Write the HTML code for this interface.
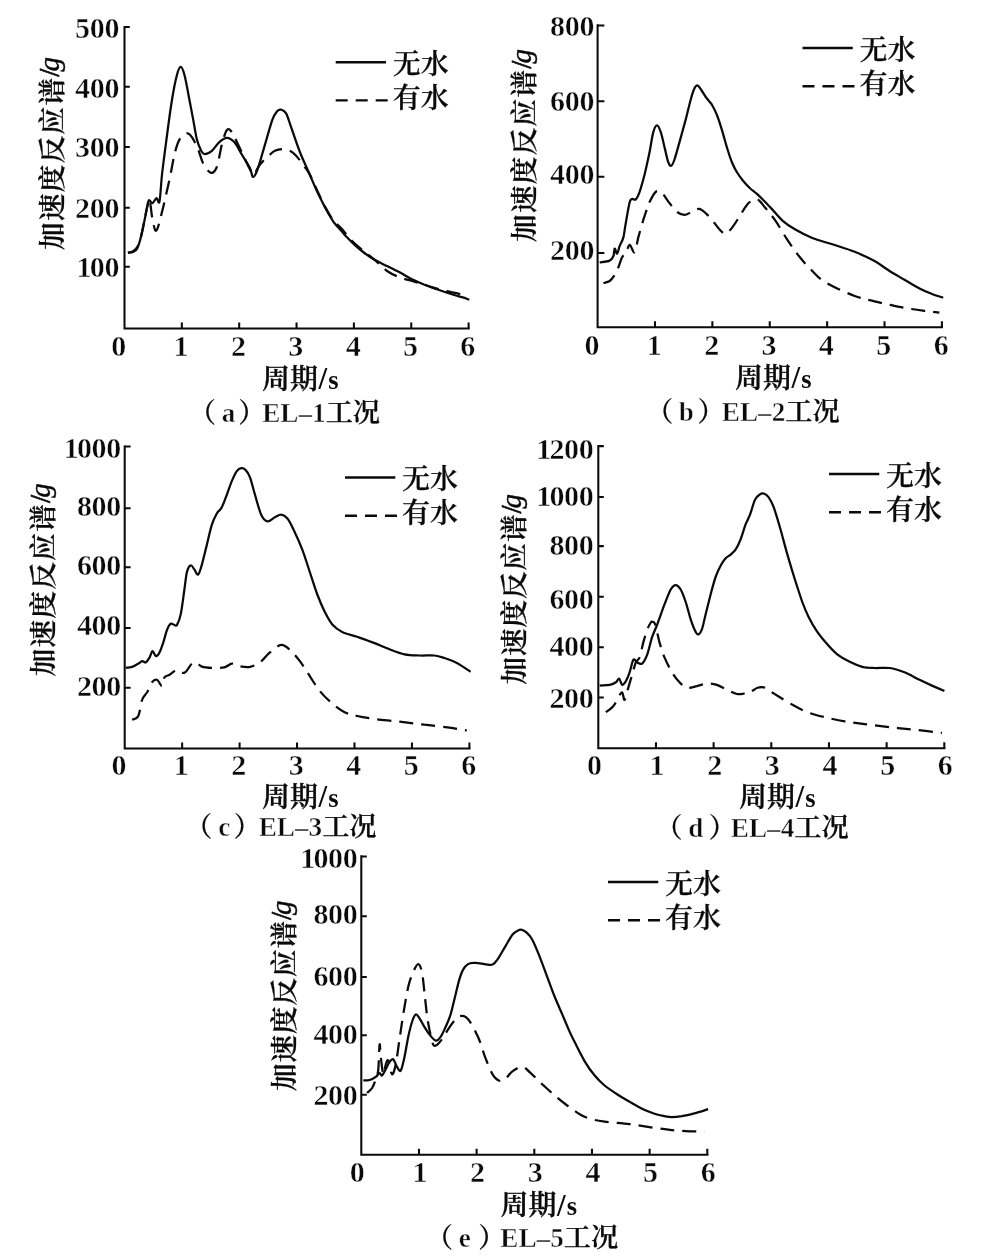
<!DOCTYPE html>
<html lang="zh-CN">
<head>
<meta charset="utf-8">
<title>加速度反应谱</title>
<style>
html,body{margin:0;padding:0;background:#fff;}
body{width:1003px;height:1257px;overflow:hidden;}
svg{display:block;}
text{fill:#0a0a0a;white-space:pre;stroke:#0a0a0a;stroke-linejoin:round;stroke-width:0;}
.num{font-family:"Liberation Serif","Noto Serif CJK SC",serif;font-size:30px;font-weight:bold;stroke:#fff;stroke-width:0.45px;letter-spacing:-0.3px;}
.ylab{font-family:"Liberation Serif","Noto Serif CJK SC",serif;font-weight:600;font-size:27.6px;letter-spacing:1.4px;stroke-width:0.3px;}
.ylab .sl{font-weight:normal;letter-spacing:0;stroke-width:0.7px;font-size:29px;}
.ylab .g{font-style:italic;font-weight:normal;letter-spacing:0;stroke-width:0.4px;font-size:29px;}
.xlab{font-family:"Liberation Serif","Noto Serif CJK SC",serif;font-weight:600;font-size:28px;stroke-width:0.3px;}
.xlab .xs{font-size:31px;font-weight:bold;stroke-width:0;}
.cap{font-family:"Liberation Serif","Noto Serif CJK SC",serif;font-size:27.2px;}
.cap .par{font-weight:600;stroke-width:0.2px;}
.cap .capl{font-weight:bold;stroke:#fff;stroke-width:0.5px;}
.cap .capc{font-weight:600;stroke-width:0.25px;}
.leg{font-family:"Liberation Serif","Noto Serif CJK SC",serif;font-weight:600;font-size:28px;stroke-width:0.25px;}
.ax{stroke:#0a0a0a;stroke-width:2.05;fill:none;}
.cv{stroke:#0a0a0a;stroke-width:2.25;fill:none;stroke-linejoin:round;}
.lg{stroke:#0a0a0a;stroke-width:2.35;fill:none;}
.ds{stroke-dasharray:14 8;}
</style>
</head>
<body>
<svg width="1003" height="1257" viewBox="0 0 1003 1257" role="img" aria-label="加速度反应谱">
<rect x="0" y="0" width="1003" height="1257" fill="#ffffff"/>

<g id="panel-a">
<path class="ax" d="M124.50 25.90 V328.40 H469.70"/>
<path class="ax" d="M124.50 27.00 h5.3M124.50 86.80 h5.3M124.50 147.00 h5.3M124.50 207.70 h5.3M124.50 266.70 h5.3M181.85 328.40 v-6M239.20 328.40 v-6M296.55 328.40 v-6M353.90 328.40 v-6M411.25 328.40 v-6M468.60 328.40 v-6"/>
<text class="num" x="119.2" y="38.0" text-anchor="end">500</text>
<text class="num" x="119.2" y="97.8" text-anchor="end">400</text>
<text class="num" x="119.2" y="156.5" text-anchor="end">300</text>
<text class="num" x="119.2" y="218.1" text-anchor="end">200</text>
<text class="num" x="119.2" y="276.8" dx="0 -1.5" text-anchor="end">100</text>
<text class="num" x="118.7" y="356.3" text-anchor="middle">0</text>
<text class="num" x="180.9" y="356.3" text-anchor="middle">1</text>
<text class="num" x="238.3" y="356.3" text-anchor="middle">2</text>
<text class="num" x="295.7" y="356.3" text-anchor="middle">3</text>
<text class="num" x="353.0" y="356.3" text-anchor="middle">4</text>
<text class="num" x="410.4" y="356.3" text-anchor="middle">5</text>
<text class="num" x="467.7" y="356.3" text-anchor="middle">6</text>
<text class="ylab" transform="translate(61.6 250.0) rotate(-90)" style="letter-spacing:1.3px">加速度反应谱<tspan class="sl" dy="-3">/</tspan><tspan class="g" dx="-3">g</tspan></text>
<text class="xlab" x="262.0" y="388.5">周期<tspan class="xs" dx="0.5" dy="0.5">/<tspan style="font-size:26.5px" dx="1" dy="-0.5">s</tspan></tspan></text>
<text class="cap" x="188.7" y="421.5"><tspan class="par">（</tspan><tspan class="capl" x="228.5" text-anchor="middle">a</tspan><tspan class="par" x="238.2" text-anchor="start">）</tspan><tspan class="capl" x="262.2">EL–1</tspan><tspan class="capc">工况</tspan></text>
<path class="lg" d="M335.7 62.2 h50.3"/>
<path class="lg" stroke-dasharray="12 8" d="M335.7 100.4 h52"/>
<text class="leg" x="392.7" y="73.7">无水</text>
<text class="leg" x="392.7" y="107.9">有水</text>
<path class="cv" d="M127.9 252.8C128.8 252.7 131.8 252.6 133.3 251.8C134.9 251.1 135.8 251.0 137.1 248.6C138.3 246.2 139.6 242.2 140.8 237.4C142.1 232.6 143.4 225.3 144.6 219.9C145.7 214.5 146.8 208.3 147.6 205.0C148.3 201.7 148.2 200.5 149.1 200.1C149.9 199.8 151.3 203.5 152.5 203.1C153.8 202.8 155.4 198.4 156.5 198.2C157.7 197.9 158.6 205.3 159.5 201.4C160.4 197.4 161.0 183.9 162.0 174.5C163.1 165.0 164.1 157.0 165.8 144.6C167.4 132.1 170.1 111.3 172.0 99.7C173.9 88.1 175.5 80.3 177.0 74.8C178.4 69.3 179.5 66.8 180.7 66.8C182.0 66.8 183.0 69.3 184.4 74.8C185.9 80.3 188.0 92.2 189.4 99.7C190.9 107.2 191.9 113.0 193.2 119.6C194.4 126.3 195.7 134.6 196.9 139.6C198.2 144.6 199.4 147.1 200.6 149.6C201.9 152.0 202.5 153.8 204.4 154.0C206.3 154.2 209.4 152.8 211.9 150.8C214.4 148.8 216.8 144.2 219.3 142.1C221.8 139.9 224.3 137.8 226.8 137.8C229.3 137.8 231.8 139.3 234.3 142.1C236.8 144.9 239.2 150.2 241.8 154.5C244.4 158.9 248.1 164.5 250.0 168.2C251.9 172.0 251.7 176.8 253.0 177.0C254.2 177.2 255.5 174.9 257.5 169.5C259.5 164.1 262.5 152.9 265.0 144.6C267.4 136.3 270.4 125.2 272.4 119.6C274.5 114.0 276.0 112.6 277.4 110.9C278.9 109.3 279.7 109.3 281.2 109.7C282.6 110.1 284.5 110.5 286.1 113.4C287.8 116.3 288.8 120.7 291.1 127.1C293.4 133.6 296.9 144.6 299.9 152.0C302.8 159.5 305.7 165.3 308.6 172.0C311.5 178.6 314.6 186.1 317.3 191.9C320.0 197.7 322.1 201.9 324.8 206.9C327.5 211.9 330.6 217.7 333.5 221.8C336.4 226.0 340.3 229.5 342.2 231.8C344.2 234.1 343.2 233.3 345.3 235.5C347.4 237.7 351.7 242.2 354.9 245.1C358.1 248.0 361.1 250.5 364.4 253.0C367.7 255.5 370.8 257.6 374.6 259.8C378.4 262.0 382.9 264.0 387.1 266.1C391.2 268.1 395.4 270.1 399.6 272.3C403.7 274.5 407.9 277.2 412.0 279.3C416.2 281.3 420.3 283.1 424.5 284.7C428.6 286.4 432.8 287.8 436.9 289.2C441.1 290.7 445.2 292.1 449.4 293.5C453.6 294.8 458.5 296.2 461.9 297.2C465.2 298.2 468.1 299.3 469.3 299.7"/>
<path class="cv ds" d="M127.9 252.8C128.8 252.6 131.8 252.0 133.3 251.1C134.9 250.2 135.8 249.6 137.1 247.4C138.3 245.1 139.6 242.0 140.8 237.4C142.1 232.8 143.4 225.3 144.6 219.9C145.7 214.5 146.7 208.4 147.6 205.0C148.4 201.6 148.7 197.0 149.6 199.4C150.4 201.8 151.4 214.1 152.5 219.3C153.7 224.5 154.7 231.8 156.3 230.6C157.9 229.3 159.8 220.4 162.0 211.9C164.2 203.3 167.4 189.0 169.5 179.5C171.6 169.9 172.8 161.2 174.5 154.5C176.1 147.9 177.4 143.1 179.5 139.6C181.5 136.1 184.9 133.8 186.9 133.3C189.0 132.9 190.1 134.4 191.9 137.1C193.8 139.8 196.3 145.2 198.2 149.6C200.0 153.9 201.1 159.4 203.1 163.3C205.2 167.1 208.3 172.1 210.6 172.7C212.9 173.4 215.0 171.7 216.8 167.0C218.7 162.3 220.2 150.7 221.8 144.6C223.5 138.4 225.2 132.2 226.8 130.1C228.5 128.0 229.7 129.3 231.8 132.1C233.9 134.9 236.2 140.8 239.3 147.1C242.3 153.3 247.6 164.9 250.0 169.5C252.4 174.1 252.1 175.3 253.7 174.5C255.4 173.6 257.5 167.6 260.0 164.5C262.5 161.4 266.2 158.1 268.7 155.8C271.2 153.5 272.6 151.9 274.9 150.8C277.2 149.7 279.9 149.1 282.4 149.1C284.9 149.1 287.6 149.7 289.9 150.8C292.2 151.9 293.6 153.1 296.1 155.8C298.6 158.5 302.6 163.9 304.8 167.0C307.1 170.1 307.7 170.5 309.8 174.5C311.9 178.4 314.8 185.4 317.3 190.7C319.8 196.0 322.1 201.4 324.8 206.4C327.5 211.4 330.6 216.8 333.5 220.6C336.4 224.4 339.5 226.3 342.2 229.3C344.9 232.3 346.4 235.2 349.7 238.6C353.0 242.1 358.0 246.3 362.2 249.9C366.3 253.4 370.5 256.3 374.6 259.8C378.8 263.4 382.9 268.1 387.1 271.0C391.2 273.9 395.4 275.6 399.6 277.3C403.7 278.9 407.9 279.8 412.0 281.0C416.2 282.3 420.3 283.5 424.5 284.7C428.6 286.0 432.8 287.3 436.9 288.5C441.1 289.6 444.4 290.6 449.4 291.7C454.4 292.9 463.9 294.8 466.8 295.5"/>
</g>
<g id="panel-b">
<path class="ax" d="M597.60 24.30 V327.20 H943.00"/>
<path class="ax" d="M597.60 25.40 h6.8M597.60 101.20 h6.8M597.60 176.80 h6.8M597.60 252.90 h6.8M654.98 327.20 v-6M712.37 327.20 v-6M769.75 327.20 v-6M827.13 327.20 v-6M884.52 327.20 v-6M941.90 327.20 v-6"/>
<text class="num" x="594.2" y="35.5" text-anchor="end">800</text>
<text class="num" x="594.2" y="111.3" text-anchor="end">600</text>
<text class="num" x="594.2" y="184.4" text-anchor="end">400</text>
<text class="num" x="594.2" y="259.5" text-anchor="end">200</text>
<text class="num" x="591.8" y="354.6" text-anchor="middle">0</text>
<text class="num" x="654.1" y="354.6" text-anchor="middle">1</text>
<text class="num" x="711.5" y="354.6" text-anchor="middle">2</text>
<text class="num" x="768.9" y="354.6" text-anchor="middle">3</text>
<text class="num" x="826.2" y="354.6" text-anchor="middle">4</text>
<text class="num" x="883.6" y="354.6" text-anchor="middle">5</text>
<text class="num" x="941.0" y="354.6" text-anchor="middle">6</text>
<text class="ylab" transform="translate(533.5 242.0) rotate(-90)" style="letter-spacing:1.3px">加速度反应谱<tspan class="sl" dy="-3">/</tspan><tspan class="g" dx="-3">g</tspan></text>
<text class="xlab" x="735.0" y="387.5">周期<tspan class="xs" dx="0.5" dy="0.5">/<tspan style="font-size:26.5px" dx="1" dy="-0.5">s</tspan></tspan></text>
<text class="cap" x="646.0" y="420.5"><tspan class="par">（</tspan><tspan class="capl" x="686.3" text-anchor="middle">b</tspan><tspan class="par" x="697.5" text-anchor="start">）</tspan><tspan class="capl" x="721.8">EL–2</tspan><tspan class="capc">工况</tspan></text>
<path class="lg" d="M802.5 48.0 h50.3"/>
<path class="lg" stroke-dasharray="12 8" d="M802.5 86.2 h52"/>
<text class="leg" x="859.5" y="59.5">无水</text>
<text class="leg" x="859.5" y="93.7">有水</text>
<path class="cv" d="M599.7 262.3C601.4 262.0 607.4 261.6 609.7 260.6C612.0 259.5 612.6 258.1 613.4 256.1C614.2 254.1 614.0 249.0 614.7 248.6C615.3 248.2 616.3 254.0 617.1 253.6C618.0 253.2 618.6 248.8 619.6 246.1C620.7 243.4 622.3 241.3 623.4 237.4C624.4 233.4 624.8 228.2 625.9 222.4C626.9 216.6 628.6 206.4 629.6 202.5C630.6 198.6 631.1 199.4 632.1 198.9C633.1 198.4 634.6 200.6 635.8 199.4C637.1 198.2 638.1 196.1 639.6 191.9C641.0 187.8 642.9 181.1 644.6 174.5C646.2 167.8 648.1 159.1 649.6 152.0C651.0 145.0 652.0 136.5 653.3 132.1C654.5 127.7 655.8 125.4 657.0 125.4C658.3 125.4 659.5 128.5 660.8 132.1C662.0 135.7 663.3 142.1 664.5 147.1C665.8 152.0 667.1 158.9 668.2 162.0C669.4 165.1 670.2 166.2 671.2 165.8C672.3 165.3 673.1 163.5 674.5 159.5C675.8 155.6 677.6 148.7 679.5 142.1C681.3 135.4 683.8 126.7 685.7 119.6C687.6 112.6 689.2 104.9 690.7 99.7C692.1 94.5 693.3 90.9 694.4 88.5C695.6 86.1 696.4 85.1 697.7 85.5C698.9 85.9 700.4 88.8 701.9 91.0C703.4 93.1 705.2 96.2 706.9 98.5C708.5 100.7 710.2 102.0 711.9 104.7C713.5 107.4 715.2 110.5 716.8 114.7C718.5 118.8 720.2 124.2 721.8 129.6C723.5 135.0 725.2 141.7 726.8 147.1C728.5 152.5 730.1 157.9 731.8 162.0C733.5 166.2 734.9 168.9 736.8 172.0C738.7 175.1 740.8 178.0 743.0 180.7C745.2 183.4 747.6 185.9 750.0 188.2C752.4 190.5 754.2 191.3 757.5 194.4C760.8 197.5 765.8 202.5 769.9 206.9C774.1 211.2 778.2 216.8 782.4 220.6C786.6 224.3 789.9 226.4 794.9 229.3C799.9 232.2 806.1 235.5 812.3 238.0C818.5 240.5 825.2 242.0 832.3 244.3C839.3 246.6 847.6 249.0 854.7 251.8C861.7 254.6 868.8 257.9 874.6 261.1C880.4 264.3 884.6 267.9 889.6 271.0C894.6 274.2 899.6 276.9 904.5 279.8C909.5 282.7 914.9 286.1 919.5 288.5C924.1 290.9 928.0 292.4 932.0 294.0C935.9 295.5 941.3 297.1 943.2 297.7"/>
<path class="cv ds" d="M603.4 283.0C604.5 282.7 607.8 282.4 609.7 281.0C611.5 279.6 613.2 277.1 614.7 274.8C616.1 272.5 617.1 270.2 618.4 267.3C619.6 264.4 620.9 259.6 622.1 257.3C623.4 255.0 624.6 255.7 625.9 253.6C627.1 251.5 628.2 245.1 629.6 244.9C631.1 244.7 633.1 253.6 634.6 252.3C636.1 251.1 636.9 242.8 638.3 237.4C639.8 232.0 641.7 225.3 643.3 219.9C645.0 214.5 647.3 208.0 648.3 205.0C649.3 202.0 648.5 203.9 649.6 201.9C650.6 199.9 653.1 195.0 654.5 193.2C656.0 191.3 656.8 190.5 658.3 190.7C659.7 190.9 661.4 192.3 663.3 194.4C665.1 196.5 667.2 200.2 669.5 203.1C671.8 206.0 674.5 209.9 677.0 211.9C679.5 213.8 682.0 214.9 684.4 214.9C686.9 214.9 689.4 212.9 691.9 211.9C694.4 210.9 696.9 208.5 699.4 208.9C701.9 209.3 704.4 212.0 706.9 214.4C709.4 216.7 712.1 220.4 714.4 223.1C716.6 225.8 718.7 228.8 720.6 230.6C722.5 232.3 723.7 234.2 725.6 233.8C727.4 233.4 729.5 230.9 731.8 228.1C734.1 225.2 737.0 220.4 739.3 216.8C741.6 213.3 743.7 209.4 745.5 206.9C747.3 204.4 748.0 203.1 750.0 201.9C752.0 200.6 755.0 198.5 757.5 199.4C760.0 200.3 762.0 204.1 765.0 207.5C767.9 210.9 771.2 214.5 774.9 219.9C778.7 225.3 783.2 233.6 787.4 239.9C791.5 246.1 795.7 252.1 799.9 257.3C804.0 262.5 808.6 267.2 812.3 271.0C816.1 274.9 818.1 277.4 822.3 280.3C826.4 283.2 831.8 285.9 837.2 288.5C842.6 291.1 849.3 294.0 854.7 296.0C860.1 297.9 864.2 298.8 869.6 300.2C875.0 301.6 881.3 302.9 887.1 304.2C892.9 305.5 898.3 306.8 904.5 307.9C910.8 309.0 918.7 310.1 924.5 310.9C930.3 311.7 936.9 312.4 939.4 312.7"/>
</g>
<g id="panel-c">
<path class="ax" d="M124.70 445.40 V748.40 H470.50"/>
<path class="ax" d="M124.70 446.50 h5.9M124.70 508.30 h5.9M124.70 567.30 h5.9M124.70 627.90 h5.9M124.70 687.70 h5.9M182.15 748.40 v-6M239.60 748.40 v-6M297.05 748.40 v-6M354.50 748.40 v-6M411.95 748.40 v-6M469.40 748.40 v-6"/>
<text class="num" x="121.0" y="457.7" dx="0 -1.5" text-anchor="end">1000</text>
<text class="num" x="121.0" y="515.9" text-anchor="end">800</text>
<text class="num" x="121.0" y="574.9" text-anchor="end">600</text>
<text class="num" x="121.0" y="634.7" text-anchor="end">400</text>
<text class="num" x="121.0" y="695.7" text-anchor="end">200</text>
<text class="num" x="118.9" y="775.2" text-anchor="middle">0</text>
<text class="num" x="181.2" y="775.2" text-anchor="middle">1</text>
<text class="num" x="238.7" y="775.2" text-anchor="middle">2</text>
<text class="num" x="296.2" y="775.2" text-anchor="middle">3</text>
<text class="num" x="353.6" y="775.2" text-anchor="middle">4</text>
<text class="num" x="411.1" y="775.2" text-anchor="middle">5</text>
<text class="num" x="468.5" y="775.2" text-anchor="middle">6</text>
<text class="ylab" transform="translate(52.9 676.3) rotate(-90)" style="letter-spacing:1.3px">加速度反应谱<tspan class="sl" dy="-3">/</tspan><tspan class="g" dx="-3">g</tspan></text>
<text class="xlab" x="262.0" y="806.5">周期<tspan class="xs" dx="0.5" dy="0.5">/<tspan style="font-size:26.5px" dx="1" dy="-0.5">s</tspan></tspan></text>
<text class="cap" x="184.9" y="835.5"><tspan class="par">（</tspan><tspan class="capl" x="224.3" text-anchor="middle">c</tspan><tspan class="par" x="233.8" text-anchor="start">）</tspan><tspan class="capl" x="258.7">EL–3</tspan><tspan class="capc">工况</tspan></text>
<path class="lg" d="M345.0 477.5 h50.3"/>
<path class="lg" stroke-dasharray="12 8" d="M345.0 515.7 h52"/>
<text class="leg" x="402.0" y="489.0">无水</text>
<text class="leg" x="402.0" y="523.2">有水</text>
<path class="cv" d="M125.9 667.9C126.9 667.7 130.0 667.6 132.1 666.9C134.2 666.2 136.7 664.6 138.3 663.6C140.0 662.7 140.8 661.3 142.1 661.1C143.3 660.9 144.6 663.0 145.8 662.4C147.1 661.7 148.4 659.3 149.6 657.4C150.7 655.5 151.5 651.4 152.5 651.2C153.6 650.9 154.6 655.9 155.8 656.1C156.9 656.3 158.3 654.7 159.5 652.4C160.8 650.1 162.0 646.2 163.3 642.4C164.5 638.7 165.8 633.1 167.0 630.0C168.2 626.9 169.5 624.6 170.7 623.7C172.0 622.9 173.4 624.8 174.5 625.0C175.5 625.2 175.9 626.6 177.0 624.9C178.0 623.1 179.5 620.3 180.7 614.4C182.0 608.5 183.4 596.6 184.4 589.5C185.5 582.4 185.9 576.1 186.9 572.0C188.0 568.0 189.4 565.7 190.7 565.3C191.9 564.9 193.2 568.0 194.4 569.6C195.7 571.1 196.9 575.4 198.2 574.5C199.4 573.7 200.4 569.6 201.9 564.6C203.3 559.6 205.2 551.3 206.9 544.6C208.5 538.0 210.2 529.9 211.9 524.7C213.5 519.5 215.2 516.4 216.8 513.5C218.5 510.6 220.2 510.4 221.8 507.2C223.5 504.1 225.2 499.1 226.8 494.8C228.5 490.4 230.1 485.0 231.8 481.1C233.5 477.1 235.2 473.3 236.8 471.1C238.4 468.9 239.8 468.3 241.3 468.1C242.7 467.9 244.1 468.3 245.5 469.9C247.0 471.4 248.4 473.2 250.0 477.3C251.6 481.5 253.1 488.5 255.0 494.8C256.9 501.0 259.1 510.3 261.2 514.7C263.3 519.2 265.2 521.0 267.4 521.4C269.7 521.9 272.6 518.3 274.9 517.2C277.2 516.1 279.1 514.5 281.2 514.7C283.2 514.9 285.3 516.0 287.4 518.5C289.5 520.9 291.1 524.5 293.6 529.7C296.1 534.9 299.6 542.5 302.3 549.6C305.0 556.7 307.3 564.6 309.8 572.0C312.3 579.5 314.8 587.8 317.3 594.5C319.8 601.1 322.3 606.9 324.8 611.9C327.3 616.9 329.3 621.1 332.3 624.4C335.2 627.7 338.1 629.8 342.2 631.9C346.4 633.9 351.8 635.0 357.2 636.8C362.6 638.7 369.2 641.0 374.6 643.1C380.0 645.2 384.6 647.4 389.6 649.3C394.6 651.2 399.6 653.3 404.5 654.3C409.5 655.3 414.5 655.3 419.5 655.5C424.5 655.8 430.3 655.1 434.4 655.5C438.6 656.0 440.7 656.8 444.4 658.0C448.2 659.3 452.5 660.7 456.9 663.0C461.2 665.3 468.3 670.4 470.6 671.8"/>
<path class="cv ds" d="M132.1 719.7C133.1 719.1 136.7 719.3 138.3 716.0C140.0 712.6 140.6 703.7 142.1 699.8C143.5 695.8 145.4 695.2 147.1 692.3C148.7 689.4 150.4 684.4 152.0 682.3C153.7 680.2 155.4 679.2 157.0 679.8C158.7 680.4 160.8 686.5 162.0 686.1C163.3 685.6 163.3 679.2 164.5 677.3C165.8 675.5 167.4 676.1 169.5 674.8C171.6 673.6 174.5 670.2 177.0 669.9C179.5 669.5 182.0 673.9 184.4 672.8C186.9 671.8 189.8 665.3 191.9 663.6C194.0 662.0 195.2 662.4 196.9 662.9C198.6 663.4 199.4 665.8 201.9 666.6C204.4 667.4 208.1 667.7 211.9 667.9C215.6 668.0 221.0 668.1 224.3 667.4C227.7 666.7 229.3 663.8 231.8 663.6C234.3 663.4 236.2 665.6 239.3 666.1C242.3 666.7 246.6 667.5 250.0 666.9C253.4 666.2 256.6 664.8 260.0 662.4C263.3 660.0 266.4 655.3 269.9 652.4C273.5 649.5 277.8 645.3 281.2 644.9C284.5 644.5 286.8 647.2 289.9 649.9C293.0 652.6 296.5 656.8 299.9 661.1C303.2 665.5 306.5 671.1 309.8 676.1C313.1 681.1 316.1 686.5 319.8 691.0C323.5 695.6 328.1 700.0 332.3 703.5C336.4 707.0 340.6 710.1 344.7 712.2C348.9 714.3 352.2 714.8 357.2 716.0C362.2 717.1 367.6 718.0 374.6 719.0C381.7 719.9 391.2 720.7 399.6 721.7C407.9 722.7 416.2 723.7 424.5 724.7C432.8 725.7 442.3 726.7 449.4 727.7C456.5 728.6 463.9 730.0 466.8 730.4"/>
</g>
<g id="panel-d">
<path class="ax" d="M598.30 445.00 V748.20 H945.40"/>
<path class="ax" d="M598.30 446.10 h5.5M598.30 497.00 h5.5M598.30 546.10 h5.5M598.30 596.80 h5.5M598.30 647.20 h5.5M598.30 697.40 h5.5M655.97 748.20 v-6M713.63 748.20 v-6M771.30 748.20 v-6M828.97 748.20 v-6M886.63 748.20 v-6M944.30 748.20 v-6"/>
<text class="num" x="593.5" y="459.0" dx="0 -1.5" text-anchor="end">1200</text>
<text class="num" x="593.5" y="505.9" dx="0 -1.5" text-anchor="end">1000</text>
<text class="num" x="593.5" y="554.6" text-anchor="end">800</text>
<text class="num" x="593.5" y="608.9" text-anchor="end">600</text>
<text class="num" x="593.5" y="656.3" text-anchor="end">400</text>
<text class="num" x="593.5" y="708.4" text-anchor="end">200</text>
<text class="num" x="594.3" y="774.7" text-anchor="middle">0</text>
<text class="num" x="656.9" y="774.7" text-anchor="middle">1</text>
<text class="num" x="714.5" y="774.7" text-anchor="middle">2</text>
<text class="num" x="772.2" y="774.7" text-anchor="middle">3</text>
<text class="num" x="829.9" y="774.7" text-anchor="middle">4</text>
<text class="num" x="887.5" y="774.7" text-anchor="middle">5</text>
<text class="num" x="945.2" y="774.7" text-anchor="middle">6</text>
<text class="ylab" transform="translate(523.6 684.5) rotate(-90)" style="letter-spacing:0.9px">加速度反应谱<tspan class="sl" dy="-3">/</tspan><tspan class="g" dx="-3">g</tspan></text>
<text class="xlab" x="739.0" y="806.5">周期<tspan class="xs" dx="0.5" dy="0.5">/<tspan style="font-size:26.5px" dx="1" dy="-0.5">s</tspan></tspan></text>
<text class="cap" x="655.2" y="836.5"><tspan class="par">（</tspan><tspan class="capl" x="695.9" text-anchor="middle">d</tspan><tspan class="par" x="708.7" text-anchor="start">）</tspan><tspan class="capl" x="730.8">EL–4</tspan><tspan class="capc">工况</tspan></text>
<path class="lg" d="M829.0 474.0 h50.3"/>
<path class="lg" stroke-dasharray="12 8" d="M829.0 512.2 h52"/>
<text class="leg" x="886.0" y="485.5">无水</text>
<text class="leg" x="886.0" y="519.7">有水</text>
<path class="cv" d="M599.7 685.6C601.4 685.4 607.0 685.3 609.7 684.8C612.4 684.3 614.3 683.4 615.9 682.3C617.5 681.3 618.1 678.2 619.1 678.6C620.2 679.0 621.0 684.4 622.1 684.8C623.3 685.2 624.6 683.1 625.9 681.1C627.1 679.0 628.4 675.9 629.6 672.3C630.9 668.8 632.1 661.5 633.3 659.9C634.6 658.2 635.6 661.7 637.1 662.4C638.5 663.0 640.4 664.9 642.1 663.6C643.7 662.4 645.4 659.3 647.1 654.9C648.7 650.5 650.4 642.4 652.0 637.4C653.7 632.5 655.0 630.5 657.0 625.0C659.1 619.5 662.2 610.4 664.5 604.4C666.8 598.5 668.9 592.7 670.7 589.5C672.6 586.3 674.1 585.0 675.7 585.0C677.4 585.0 679.0 586.7 680.7 589.5C682.4 592.3 684.0 597.0 685.7 602.0C687.4 606.9 689.0 614.4 690.7 619.4C692.3 624.4 694.3 629.4 695.7 631.9C697.0 634.4 697.6 634.8 698.7 634.4C699.7 633.9 700.7 632.7 701.9 629.4C703.1 626.0 704.2 620.2 705.6 614.4C707.1 608.6 709.0 600.7 710.6 594.5C712.3 588.2 713.9 581.8 715.6 577.0C717.3 572.3 718.9 568.9 720.6 565.8C722.2 562.7 723.9 560.2 725.6 558.3C727.2 556.5 728.9 556.1 730.6 554.6C732.2 553.1 733.9 552.1 735.5 549.6C737.2 547.1 738.9 543.8 740.5 539.6C742.2 535.5 743.9 528.8 745.5 524.7C747.1 520.5 748.4 518.9 750.0 514.7C751.6 510.6 753.3 503.2 755.0 499.8C756.6 496.4 758.5 495.3 760.0 494.3C761.4 493.2 762.3 493.0 763.7 493.5C765.2 494.0 767.0 495.0 768.7 497.3C770.4 499.6 771.8 502.3 773.7 507.2C775.5 512.2 777.6 519.3 779.9 527.2C782.2 535.1 784.9 545.9 787.4 554.6C789.9 563.3 792.4 571.6 794.9 579.5C797.4 587.4 800.1 595.7 802.3 602.0C804.6 608.2 806.1 611.9 808.6 616.9C811.1 621.9 814.2 627.3 817.3 631.9C820.4 636.4 823.9 640.6 827.3 644.3C830.6 648.1 833.5 651.4 837.2 654.3C841.0 657.2 845.5 659.7 849.7 661.8C853.9 663.9 858.0 665.7 862.2 666.8C866.3 667.8 870.1 667.8 874.6 668.0C879.2 668.2 884.6 667.3 889.6 668.0C894.6 668.7 899.6 670.4 904.5 672.3C909.5 674.3 914.9 677.6 919.5 679.8C924.1 682.0 927.8 683.7 932.0 685.6C936.1 687.4 942.3 690.1 944.4 691.0"/>
<path class="cv ds" d="M605.9 712.2C607.2 711.2 611.3 708.5 613.4 706.0C615.5 703.5 616.9 699.6 618.4 697.3C619.8 695.0 621.1 691.9 622.1 692.3C623.2 692.7 623.6 700.6 624.6 699.8C625.7 698.9 627.1 691.5 628.4 687.3C629.6 683.1 630.9 679.0 632.1 674.8C633.3 670.7 634.6 665.3 635.8 662.4C637.1 659.5 638.3 660.7 639.6 657.4C640.8 654.1 642.1 647.0 643.3 642.4C644.6 637.9 645.8 633.3 647.1 630.0C648.3 626.6 649.9 623.9 650.8 622.5C651.7 621.1 651.6 621.5 652.3 621.8C653.0 622.1 654.0 621.1 655.2 624.5C656.4 627.9 658.0 637.0 659.5 642.4C661.1 647.9 662.4 652.4 664.5 657.4C666.6 662.4 669.5 668.2 672.0 672.3C674.5 676.5 677.0 679.7 679.5 682.3C682.0 684.9 684.0 687.2 686.9 687.8C689.8 688.4 693.6 686.8 696.9 686.1C700.2 685.3 703.6 683.8 706.9 683.6C710.2 683.4 713.5 683.8 716.8 684.8C720.2 685.8 723.5 688.3 726.8 689.8C730.1 691.3 733.9 693.4 736.8 694.0C739.7 694.7 742.1 693.8 744.3 693.5C746.5 693.2 747.8 693.2 750.0 692.3C752.2 691.3 755.2 688.6 757.5 687.8C759.8 687.0 761.6 686.8 763.7 687.3C765.8 687.8 767.2 689.4 769.9 691.0C772.6 692.7 776.2 695.0 779.9 697.3C783.6 699.6 787.8 702.3 792.4 704.7C796.9 707.2 801.9 710.1 807.3 712.2C812.7 714.3 818.5 715.7 824.8 717.2C831.0 718.7 838.1 720.3 844.7 721.4C851.4 722.6 857.2 723.2 864.7 724.2C872.1 725.1 881.3 726.3 889.6 727.2C897.9 728.1 905.8 728.7 914.5 729.7C923.2 730.6 937.4 732.4 941.9 732.9"/>
</g>
<g id="panel-e">
<path class="ax" d="M361.30 855.30 V1154.70 H708.40"/>
<path class="ax" d="M361.30 856.40 h5.5M361.30 916.30 h5.5M361.30 976.90 h5.5M361.30 1035.30 h5.5M361.30 1094.70 h5.5M418.97 1154.70 v-6M476.63 1154.70 v-6M534.30 1154.70 v-6M591.97 1154.70 v-6M649.63 1154.70 v-6M707.30 1154.70 v-6"/>
<text class="num" x="357.5" y="867.5" dx="0 -1.5" text-anchor="end">1000</text>
<text class="num" x="357.5" y="923.8" text-anchor="end">800</text>
<text class="num" x="357.5" y="985.5" text-anchor="end">600</text>
<text class="num" x="357.5" y="1044.3" text-anchor="end">400</text>
<text class="num" x="357.5" y="1105.0" text-anchor="end">200</text>
<text class="num" x="357.2" y="1182.0" text-anchor="middle">0</text>
<text class="num" x="419.8" y="1182.0" text-anchor="middle">1</text>
<text class="num" x="477.4" y="1182.0" text-anchor="middle">2</text>
<text class="num" x="535.1" y="1182.0" text-anchor="middle">3</text>
<text class="num" x="592.8" y="1182.0" text-anchor="middle">4</text>
<text class="num" x="650.4" y="1182.0" text-anchor="middle">5</text>
<text class="num" x="708.1" y="1182.0" text-anchor="middle">6</text>
<text class="ylab" transform="translate(294.2 1091.0) rotate(-90)" style="letter-spacing:0.9px">加速度反应谱<tspan class="sl" dy="-3">/</tspan><tspan class="g" dx="-3">g</tspan></text>
<text class="xlab" x="500.5" y="1215.0">周期<tspan class="xs" dx="0.5" dy="0.5">/<tspan style="font-size:26.5px" dx="1" dy="-0.5">s</tspan></tspan></text>
<text class="cap" x="425.8" y="1246.5"><tspan class="par">（</tspan><tspan class="capl" x="464.7" text-anchor="middle">e</tspan><tspan class="par" x="478.3" text-anchor="start">）</tspan><tspan class="capl" x="500.3">EL–5</tspan><tspan class="capc">工况</tspan></text>
<path class="lg" d="M608.0 882.0 h50.3"/>
<path class="lg" stroke-dasharray="12 8" d="M608.0 920.2 h52"/>
<text class="leg" x="665.0" y="893.5">无水</text>
<text class="leg" x="665.0" y="927.7">有水</text>
<path class="cv" d="M363.3 1080.5C364.4 1080.4 367.5 1080.7 369.6 1080.0C371.7 1079.4 374.2 1078.0 375.8 1076.8C377.5 1075.6 378.5 1073.3 379.6 1073.1C380.6 1072.8 381.0 1076.2 382.0 1075.5C383.1 1074.9 384.5 1071.6 385.8 1069.3C387.0 1067.0 388.3 1063.5 389.5 1061.8C390.8 1060.2 392.0 1058.5 393.3 1059.3C394.5 1060.2 395.8 1065.0 397.0 1066.8C398.2 1068.7 399.5 1072.2 400.7 1070.6C402.0 1068.9 403.2 1062.5 404.5 1056.9C405.7 1051.2 407.0 1042.7 408.2 1036.9C409.5 1031.1 410.7 1025.7 412.0 1022.0C413.2 1018.2 414.4 1015.1 415.7 1014.5C416.9 1013.9 418.0 1016.1 419.4 1018.2C420.9 1020.3 422.8 1024.2 424.4 1026.9C426.1 1029.6 427.5 1032.1 429.4 1034.4C431.3 1036.7 433.8 1040.2 435.6 1040.6C437.5 1041.1 439.0 1039.2 440.6 1036.9C442.3 1034.6 443.9 1030.7 445.6 1026.9C447.3 1023.2 448.9 1019.9 450.6 1014.5C452.2 1009.1 454.1 1000.3 455.6 994.5C457.0 988.7 458.1 983.7 459.3 979.6C460.6 975.4 461.6 972.2 463.1 969.6C464.5 967.0 466.2 965.2 468.0 964.1C469.9 963.0 472.3 963.0 474.3 962.9C476.3 962.7 477.8 963.1 480.0 963.3C482.2 963.6 485.4 964.4 487.5 964.6C489.6 964.8 490.8 965.4 492.5 964.6C494.1 963.8 495.4 962.5 497.4 959.6C499.5 956.7 502.4 951.3 504.9 947.1C507.4 943.0 510.3 937.4 512.4 934.7C514.5 932.0 515.9 931.8 517.4 930.9C518.8 930.1 519.7 929.5 521.1 929.7C522.6 929.9 524.2 930.5 526.1 932.2C528.0 933.9 530.1 935.5 532.3 939.7C534.6 943.8 537.3 950.9 539.8 957.1C542.3 963.3 544.8 970.4 547.3 977.1C549.8 983.7 552.3 990.8 554.8 997.0C557.3 1003.2 559.8 1008.6 562.3 1014.4C564.7 1020.3 567.7 1027.3 569.7 1031.9C571.8 1036.5 572.2 1037.2 574.7 1042.1C577.2 1047.1 581.4 1055.8 584.7 1061.3C588.0 1066.9 591.3 1071.5 594.7 1075.5C598.0 1079.6 600.9 1082.4 604.6 1085.5C608.4 1088.6 612.9 1091.5 617.1 1094.2C621.2 1096.9 625.4 1099.3 629.6 1101.7C633.7 1104.1 637.9 1106.7 642.0 1108.7C646.2 1110.7 650.7 1112.4 654.5 1113.7C658.2 1114.9 661.5 1115.6 664.4 1116.2C667.4 1116.8 669.0 1117.2 671.9 1117.2C674.8 1117.2 678.2 1116.8 681.9 1116.2C685.6 1115.5 690.0 1114.6 694.4 1113.4C698.7 1112.3 705.8 1109.9 708.1 1109.2"/>
<path class="cv ds" d="M367.1 1093.0C367.9 1092.2 370.6 1090.3 372.1 1088.0C373.5 1085.7 374.8 1082.4 375.8 1079.3C376.9 1076.2 377.7 1075.1 378.3 1069.3C378.9 1063.5 379.1 1046.5 379.6 1044.4C380.0 1042.3 380.2 1051.9 380.8 1056.9C381.4 1061.8 382.5 1073.1 383.3 1074.3C384.1 1075.5 385.0 1066.6 385.8 1064.3C386.6 1062.0 387.2 1058.9 388.3 1060.6C389.3 1062.3 390.8 1073.7 392.0 1074.3C393.3 1074.9 394.5 1070.1 395.8 1064.3C397.0 1058.5 398.2 1047.7 399.5 1039.4C400.7 1031.1 401.8 1023.2 403.2 1014.5C404.7 1005.7 406.6 994.1 408.2 987.0C409.9 980.0 411.5 975.9 413.2 972.1C414.9 968.3 416.7 964.1 418.2 964.1C419.6 964.1 420.9 967.4 421.9 972.1C423.0 976.7 423.6 985.0 424.4 992.0C425.2 999.1 426.1 1008.2 426.9 1014.4C427.7 1020.7 428.4 1024.4 429.4 1029.4C430.4 1034.4 431.9 1041.8 433.1 1044.4C434.4 1046.9 435.4 1045.7 436.9 1044.9C438.3 1044.0 440.0 1041.9 441.9 1039.4C443.7 1036.8 446.0 1032.5 448.1 1029.4C450.2 1026.3 452.5 1022.8 454.3 1020.7C456.2 1018.5 457.4 1017.1 459.3 1016.4C461.2 1015.8 463.5 1015.6 465.5 1016.9C467.6 1018.3 469.9 1021.5 471.8 1024.4C473.6 1027.3 475.4 1031.5 476.8 1034.4C478.1 1037.3 478.6 1038.1 480.0 1041.9C481.4 1045.6 482.9 1051.4 485.0 1056.8C487.1 1062.2 490.2 1070.3 492.5 1074.3C494.7 1078.2 496.6 1079.7 498.7 1080.5C500.8 1081.4 502.6 1080.8 504.9 1079.3C507.2 1077.7 509.5 1073.4 512.4 1071.3C515.3 1069.2 519.5 1066.7 522.4 1066.8C525.3 1067.0 526.5 1069.4 529.9 1072.3C533.2 1075.2 538.2 1080.4 542.3 1084.3C546.5 1088.1 550.6 1092.0 554.8 1095.5C558.9 1099.0 563.1 1102.3 567.2 1105.5C571.4 1108.6 576.0 1112.0 579.7 1114.2C583.4 1116.4 585.5 1117.4 589.7 1118.7C593.8 1119.9 598.0 1120.7 604.6 1121.7C611.3 1122.6 621.2 1123.1 629.6 1124.1C637.9 1125.2 647.0 1126.8 654.5 1127.9C662.0 1128.9 668.2 1129.8 674.4 1130.4C680.6 1131.0 686.9 1131.2 691.9 1131.4C696.8 1131.5 702.2 1131.4 704.3 1131.4"/>
</g>
</svg>
</body>
</html>
